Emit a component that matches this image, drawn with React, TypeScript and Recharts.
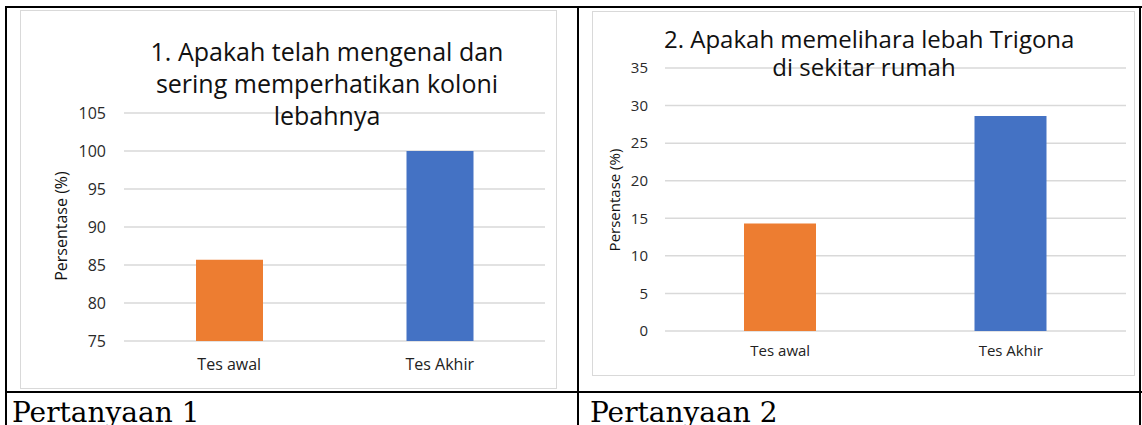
import React from 'react'
import { BarChart, Bar, XAxis, YAxis, CartesianGrid, Cell } from 'recharts'

// data
const categories = ['Tes awal', 'Tes Akhir']
const q1Values = [85.7, 100]
const q2Values = [14.3, 28.6]
const barColors = ['#ED7D31', '#4472C4']
const q1Ticks = [75, 80, 85, 90, 95, 100, 105]
const q2Ticks = [0, 5, 10, 15, 20, 25, 30, 35]
const q1TitleLines = ['1. Apakah telah mengenal dan', 'sering memperhatikan koloni', 'lebahnya']
const q2TitleLines = ['2. Apakah memelihara lebah Trigona', 'di sekitar rumah']
const captions = ['Pertanyaan 1', 'Pertanyaan 2']

const FONT = '"Open Sans", "Segoe UI", sans-serif'
const GRID = '#d9d9d9'

const q1Data = categories.map((name, i) => ({ name, value: q1Values[i] }))
const q2Data = categories.map((name, i) => ({ name, value: q2Values[i] }))

const abs = (left: number, top: number, width: number, height: number): React.CSSProperties => ({
  position: 'absolute', left, top, width, height,
})

function YLabel({ x, y, size, text }: { x: number; y: number; size: number; text: string }) {
  return (
    <div style={{
      position: 'absolute', left: x, top: y, transform: 'translate(-50%, -50%) rotate(-90deg)',
      whiteSpace: 'nowrap', fontFamily: FONT, fontSize: size, color: '#111', lineHeight: 1,
    }}>{text}</div>
  )
}

function Title({ left, top, size, lh, lines }: { left: number; top: number; size: number; lh: number; lines: string[] }) {
  return (
    <div style={{
      position: 'absolute', left, top, width: 400, textAlign: 'center', fontFamily: FONT,
      fontSize: size, lineHeight: `${lh}px`, color: '#111', whiteSpace: 'nowrap',
    }}>
      {lines.map((l) => <div key={l}>{l}</div>)}
    </div>
  )
}

export default function App() {
  const border = '#000'
  return (
    <div style={{ position: 'absolute', left: 0, top: 0, width: 1142, height: 425, background: '#fff', overflow: 'hidden' }}>
      {/* chart 1 */}
      <div style={{ ...abs(20, 10, 537, 379), border: `1px solid ${GRID}`, boxSizing: 'border-box' }}>
        <BarChart width={535} height={377} data={q1Data} margin={{ top: 102, right: 11, bottom: 17, left: 0 }}>
          <CartesianGrid vertical={false} stroke={GRID} strokeWidth={1.5} />
          <XAxis dataKey="name" axisLine={false} tickLine={false} height={30} tickMargin={12}
            tick={{ fontSize: 16, fill: '#222', fontFamily: FONT }} />
          <YAxis type="number" domain={[75, 105]} ticks={q1Ticks} width={103} axisLine={false} tickLine={false}
            tickMargin={12} tick={{ fontSize: 16, fill: '#2a2a2a', fontFamily: FONT }} />
          <Bar dataKey="value" barSize={67} isAnimationActive={false}>
            {q1Data.map((d, i) => <Cell key={d.name} fill={barColors[i]} />)}
          </Bar>
        </BarChart>
      </div>
      <Title left={127} top={35} size={25} lh={32} lines={q1TitleLines} />
      <YLabel x={61} y={226} size={16} text="Persentase (%)" />

      {/* chart 2 */}
      <div style={{ ...abs(592, 11, 543, 365), border: `1px solid ${GRID}`, boxSizing: 'border-box' }}>
        <BarChart width={541} height={363} data={q2Data} margin={{ top: 56, right: 8, bottom: 14, left: 0 }}>
          <CartesianGrid vertical={false} stroke={GRID} strokeWidth={1.5} />
          <XAxis dataKey="name" axisLine={false} tickLine={false} height={30} tickMargin={8}
            tick={{ fontSize: 15, fill: '#222', fontFamily: FONT }} />
          <YAxis type="number" domain={[0, 35]} ticks={q2Ticks} width={72} axisLine={false} tickLine={false}
            tickMargin={11} tick={{ fontSize: 15, fill: '#2a2a2a', fontFamily: FONT }} />
          <Bar dataKey="value" barSize={72} isAnimationActive={false}>
            {q2Data.map((d, i) => <Cell key={d.name} fill={barColors[i]} />)}
          </Bar>
        </BarChart>
      </div>
      <Title left={664} top={25} size={24} lh={28} lines={q2TitleLines} />
      <YLabel x={614} y={200} size={15} text="Persentase (%)" />

      {/* table borders */}
      <div style={{ ...abs(5, 6, 1137, 2), background: border }} />
      <div style={{ ...abs(5, 391, 1137, 2), background: border }} />
      <div style={{ ...abs(5, 6, 2, 419), background: border }} />
      <div style={{ ...abs(577, 6, 2, 419), background: border }} />
      <div style={{ ...abs(1139, 6, 2, 419), background: border }} />

      {/* captions */}
      {captions.map((c, i) => (
        <div key={c} style={{
          position: 'absolute', left: i === 0 ? 12 : 590, top: 398, fontFamily: '"DejaVu Serif", serif',
          fontSize: 28, lineHeight: '30px', color: '#000', whiteSpace: 'nowrap',
        }}>{c}</div>
      ))}
    </div>
  )
}
